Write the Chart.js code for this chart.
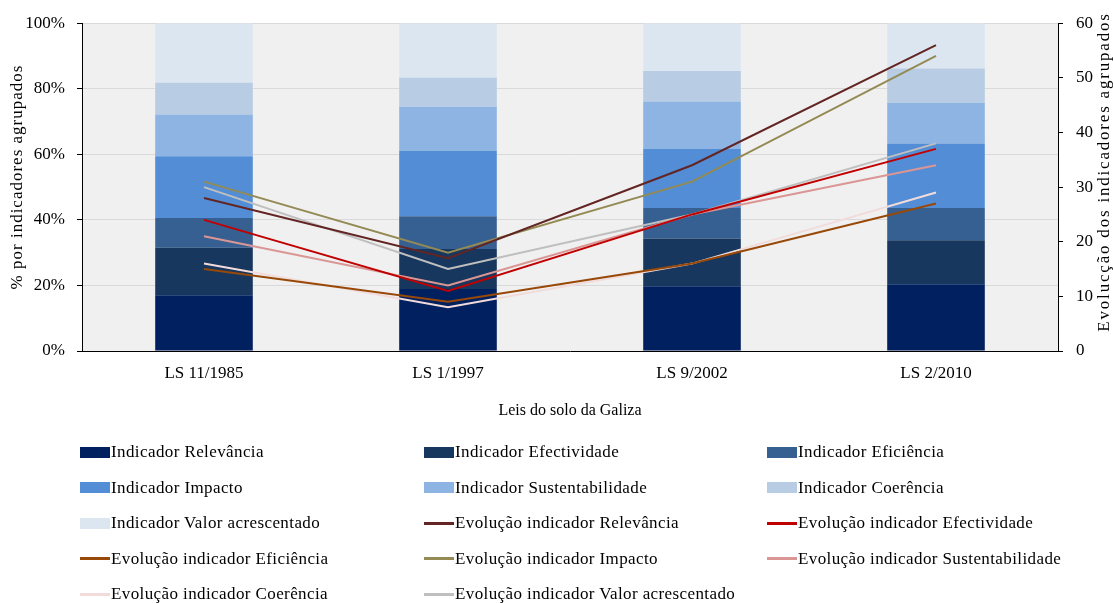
<!DOCTYPE html>
<html>
<head>
<meta charset="utf-8">
<script src="https://cdn.jsdelivr.net/npm/chart.js@4.4.0/dist/chart.umd.min.js"></script>
<style>
  body { margin: 0; background: #fff; }
  #wrap { position: relative; width: 1113px; height: 603px; }
  #chart { position: absolute; left: 0; top: 0; }
  #legend {
    position: absolute; left: 0; top: 0; width: 1113px; height: 603px;
    font-family: 'Liberation Serif', 'Times New Roman', serif; font-size: 17px; color: #000;
    letter-spacing: 0.4px;
  }
  .item { position: absolute; display: flex; align-items: center; height: 20px; white-space: nowrap; }
  .swatch { width: 30px; margin-right: 1px; }
</style>
</head>
<body>
<div id="wrap">
  <canvas id="chart" width="1113" height="430"></canvas>
  <div id="legend"></div>
</div>
<script>
const categories = ['LS 11/1985', 'LS 1/1997', 'LS 9/2002', 'LS 2/2010'];
const indicadores = ['Relevância', 'Efectividade', 'Eficiência', 'Impacto', 'Sustentabilidade', 'Coerência', 'Valor acrescentado'];

// peso de cada indicador em cada lei (%)
const pctRelevancia = [16.97, 18.89, 19.77, 20.36];
const pctEfectividade = [14.55, 12.22, 14.53, 13.45];
const pctEficiencia = [9.09, 10.00, 9.30, 9.82];
const pctImpacto = [18.79, 20.00, 18.02, 19.64];
const pctSustentabilidade = [12.73, 13.33, 14.53, 12.36];
const pctCoerencia = [9.70, 8.89, 9.30, 10.55];
const pctValor = [18.18, 16.67, 14.53, 13.82];

// evolução dos indicadores (eixo direito)
const evoRelevancia = [28, 17, 34, 56];
const evoEfectividade = [24, 11, 25, 37];
const evoEficiencia = [15, 9, 16, 27];
const evoImpacto = [31, 18, 31, 54];
const evoSustentabilidade = [21, 12, 25, 34];
const evoCoerencia = [16, 8, 16, 29];
const evoValor = [30, 15, 25, 38];

const percentTicks = [0, 20, 40, 60, 80, 100];

const barColors = ['#002060', '#17375E', '#366092', '#538DD5', '#8DB4E2', '#B8CCE4', '#DCE6F1'];
const lineColors = ['#632523', '#C00000', '#984807', '#948A54', '#DA9694', '#F2DCDB', '#BFBFBF'];

const pctSeries = [pctRelevancia, pctEfectividade, pctEficiencia, pctImpacto, pctSustentabilidade, pctCoerencia, pctValor];
const evoSeries = [evoRelevancia, evoEfectividade, evoEficiencia, evoImpacto, evoSustentabilidade, evoCoerencia, evoValor];

const serif = "'Liberation Serif', 'Times New Roman', serif";
Chart.defaults.font.family = serif;
Chart.defaults.font.size = 17;
Chart.defaults.color = '#000';

const datasets = [];
pctSeries.forEach((d, i) => {
  datasets.push({
    type: 'bar',
    label: 'Indicador ' + indicadores[i],
    data: d,
    backgroundColor: barColors[i],
    yAxisID: 'y',
    order: 2,
    barPercentage: 0.4,
    categoryPercentage: 1
  });
});
evoSeries.forEach((d, i) => {
  datasets.push({
    type: 'line',
    label: 'Evolução indicador ' + indicadores[i],
    data: d,
    borderColor: lineColors[i],
    backgroundColor: lineColors[i],
    borderWidth: 2,
    pointRadius: 0,
    tension: 0,
    yAxisID: 'y1',
    order: 1
  });
});

const plotBackground = {
  id: 'plotBackground',
  beforeDraw(chart) {
    const { ctx, chartArea: a } = chart;
    ctx.save();
    ctx.fillStyle = '#F0F0F0';
    ctx.fillRect(a.left, a.top, a.width, a.height);
    ctx.restore();
  }
};

// títulos verticais dos dois eixos (rodados, lidos de baixo para cima)
function verticalTitle(ctx, text, x, y, spacing) {
  ctx.save();
  ctx.translate(x, y);
  ctx.rotate(-Math.PI / 2);
  ctx.font = '17px ' + serif;
  ctx.letterSpacing = spacing;
  ctx.fillStyle = '#000';
  ctx.textAlign = 'center';
  ctx.textBaseline = 'middle';
  ctx.fillText(text, 0, 0);
  ctx.restore();
}

const axisTitles = {
  id: 'axisTitles',
  afterDraw(chart) {
    verticalTitle(chart.ctx, '% por indicadores agrupados', 18, 177, '1px');
    verticalTitle(chart.ctx, 'Evolucção dos indicadores agrupados', 1105, 172, '1.8px');
  }
};

const chart = new Chart(document.getElementById('chart'), {
  data: { labels: categories, datasets: datasets },
  options: {
    responsive: false,
    animation: false,
    layout: { padding: { left: 0, top: 7, right: 0, bottom: 0 } },
    plugins: { legend: { display: false }, tooltip: { enabled: false } },
    scales: {
      x: {
        stacked: true,
        grid: { display: false, drawTicks: false },
        border: { color: '#000', width: 1 },
        ticks: { padding: 12 },
        title: { display: true, text: 'Leis do solo da Galiza', font: { size: 16 }, padding: { top: 4, bottom: 10 } },
        afterFit(scale) { scale.height = 79; }
      },
      y: {
        stacked: true,
        position: 'left',
        min: 0,
        max: 100,
        afterBuildTicks(scale) { scale.ticks = percentTicks.map(v => ({ value: v })); },
        ticks: { padding: 12, callback: v => v + '%' },
        grid: { color: '#D9D9D9', tickColor: '#000', tickLength: 5 },
        border: { color: '#000', width: 1 },
        afterFit(scale) { scale.width = 82; }
      },
      y1: {
        position: 'right',
        min: 0,
        max: 60,
        ticks: { stepSize: 10, padding: 13 },
        grid: { drawOnChartArea: false, tickColor: '#000', tickLength: 5 },
        border: { color: '#000', width: 1 },
        afterFit(scale) { scale.width = 55; }
      }
    }
  },
  plugins: [plotBackground, axisTitles]
});

// legenda em três colunas
const legendCols = [80, 424, 767];
const legend = document.getElementById('legend');
chart.data.datasets.forEach((ds, i) => {
  const item = document.createElement('div');
  item.className = 'item';
  item.style.left = legendCols[i % 3] + 'px';
  item.style.top = (442 + Math.floor(i / 3) * 35.5) + 'px';
  const sw = document.createElement('div');
  sw.className = 'swatch';
  sw.style.background = ds.type === 'bar' ? ds.backgroundColor : ds.borderColor;
  sw.style.height = ds.type === 'bar' ? '11px' : '3px';
  const txt = document.createElement('span');
  txt.textContent = ds.label;
  item.appendChild(sw);
  item.appendChild(txt);
  legend.appendChild(item);
});
</script>
</body>
</html>
